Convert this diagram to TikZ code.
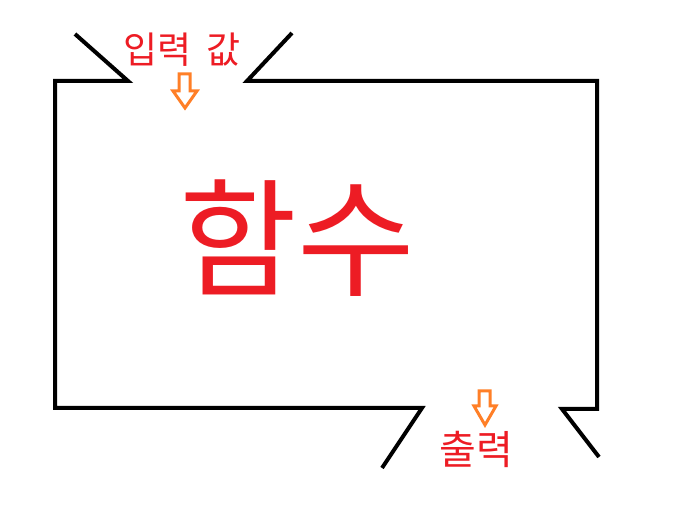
\documentclass[tikz,border=0pt]{standalone}
\usepackage{fontspec}
\newfontfamily\kr{Noto Sans CJK KR}
\definecolor{pred}{RGB}{237,28,36}
\definecolor{porange}{RGB}{255,127,39}
\begin{document}
\begin{tikzpicture}[x=1pt,y=-1pt,
  wall/.style={draw=black,line width=4pt,line join=miter},
  hollowarrow/.style={draw=porange,line width=3pt,line join=miter,fill=white},
  lbl/.style={text=pred,inner sep=0pt,font=\kr}]
\useasboundingbox (0,0) rectangle (673,529);
% coordinates of the box walls
\coordinate (tl0) at (75,34);
\coordinate (tl1) at (128,81);
\coordinate (c1) at (55,81);
\coordinate (c2) at (55,408);
\coordinate (bl1) at (422,408);
\coordinate (bl0) at (382,468);
\coordinate (tr0) at (292,33);
\coordinate (tr1) at (247,81);
\coordinate (c3) at (597,81);
\coordinate (c4) at (597,409);
\coordinate (br1) at (562,409);
\coordinate (br0) at (599,457);
\draw[wall] (tl0) -- (tl1) -- (c1) -- (c2) -- (bl1) -- (bl0);
\draw[wall] (tr0) -- (tr1) -- (c3) -- (c4) -- (br1) -- (br0);
% texts
\node[lbl,font=\kr\fontsize{37}{37}\selectfont] (in) at (182,50) {입력\hspace{14pt}값};
\node[lbl,font=\kr\fontsize{40}{40}\selectfont] (out) at (476,449) {출력};
\node[lbl,font=\kr\fontsize{128}{128}\selectfont] (fn) at (297,238) {함수};
% arrows
\draw[hollowarrow] (179,74) -- (190,74) -- (190,91) -- (197,91) -- (185,108) -- (173,91) -- (179,91) -- cycle;
\draw[hollowarrow] (479,391) -- (490,391) -- (490,406) -- (496,406) -- (485,425) -- (474,406) -- (479,406) -- cycle;
\end{tikzpicture}
\end{document}
